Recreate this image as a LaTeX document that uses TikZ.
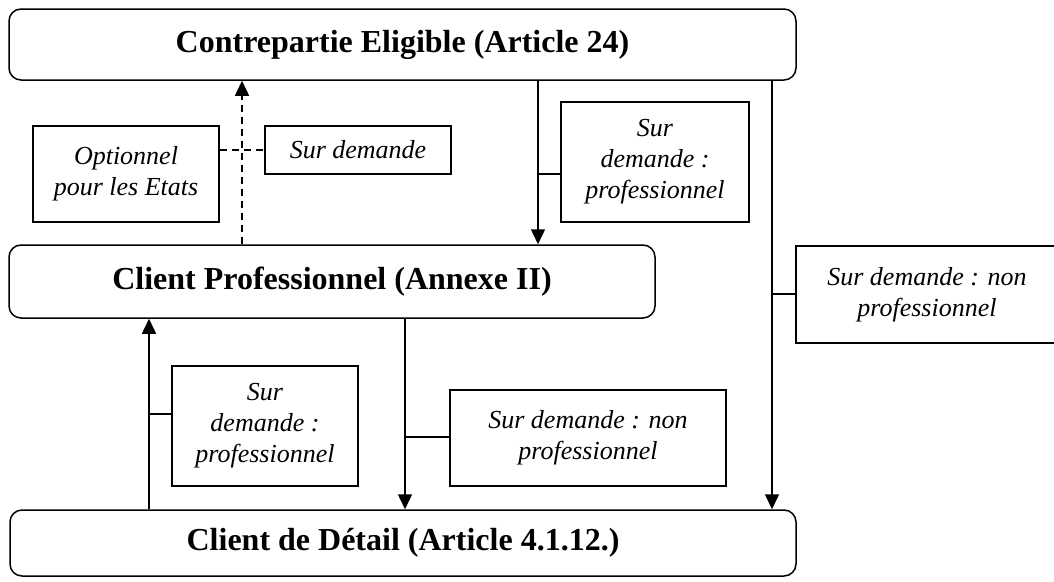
\documentclass[tikz,border=0pt]{standalone}
\usepackage{fontspec}
\setmainfont{Liberation Serif}
\usetikzlibrary{arrows.meta,positioning}
\tikzset{
  titlebox/.style={draw,rounded corners=12pt,line width=1.5pt,font=\fontsize{32}{38}\selectfont\bfseries},
  notebox/.style={draw,line width=1.5pt,align=center,font=\fontsize{26}{31}\selectfont\itshape},
  arr/.style={line width=1.5pt,-{Triangle[width=14pt,length=15pt]}},
  link/.style={line width=1.5pt}
}
\begin{document}
\begin{tikzpicture}[x=1pt,y=-1pt]
        \useasboundingbox (0,0) rectangle (1054,581);
        \begin{scope}
        \node[titlebox,minimum width=787pt,minimum height=71pt] (CE) at (402.5,44.5) {Contrepartie Eligible (Article 24)};
        \node[titlebox,minimum width=646pt,minimum height=73pt] (CP) at (332,281.5) {Client Professionnel (Annexe II)};
        \node[titlebox,minimum width=786pt,minimum height=66pt] (CD) at (403,543) {Client de Détail (Article 4.1.12.)};
        \end{scope}

        \begin{scope}[inner sep=0pt]
        \node[notebox,minimum width=186pt,minimum height=96pt] (opt) at (126,174) {Optionnel\\pour les Etats};
        \node[notebox,minimum width=186pt,minimum height=48pt] (sd) at (358,150) {Sur demande};
        \node[notebox,minimum width=188pt,minimum height=120pt] (pro1) at (655,162) {Sur\\demande :\\professionnel};
        \node[notebox,minimum width=262pt,minimum height=97pt] (npro1) at (927,294.5) {Sur demande : non\\professionnel};
        \node[notebox,minimum width=186pt,minimum height=120pt] (pro2) at (265,426) {Sur\\demande :\\professionnel};
        \node[notebox,minimum width=276pt,minimum height=96pt] (npro2) at (588,438) {Sur demande : non\\professionnel};
        \end{scope}

        \coordinate (xd) at (242,150);
        \coordinate (x1) at (538,174);
        \coordinate (x2) at (772,294);
        \coordinate (x3) at (149,414);
        \coordinate (x4) at (405,437);

        \draw[arr,dash pattern=on 7pt off 5pt] (CP.north -| xd) -- (CE.south -| xd);
        \draw[link,dash pattern=on 7pt off 5pt] (opt.east |- xd) -- (sd.west |- xd);

        \draw[arr] (CE.south -| x1) -- (CP.north -| x1);
        \draw[link] (x1) -- (pro1.west |- x1);

        \draw[arr] (CE.south -| x2) -- (CD.north -| x2);
        \draw[link] (x2) -- (npro1.west |- x2);

        \draw[arr] (CD.north -| x3) -- (CP.south -| x3);
        \draw[link] (x3) -- (pro2.west |- x3);

        \draw[arr] (CP.south -| x4) -- (CD.north -| x4);
        \draw[link] (x4) -- (npro2.west |- x4);
\end{tikzpicture}
\end{document}
